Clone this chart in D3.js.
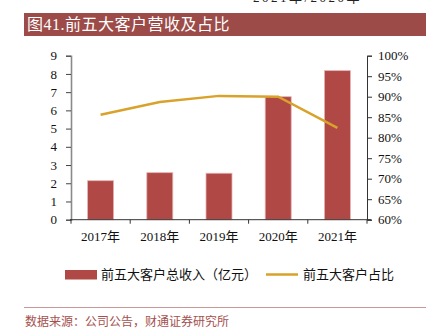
<!DOCTYPE html>
<html><head><meta charset="utf-8">
<script src="https://cdn.jsdelivr.net/npm/d3@7"></script>
<style>
html,body{margin:0;padding:0;background:#fff;}
svg{display:block;}
</style>
</head><body>
<svg id="c" width="426" height="335"></svg>
<script>
const categories = ["2017年","2018年","2019年","2020年","2021年"];
const revenue = [2.14, 2.58, 2.55, 6.75, 8.18];
const share = [0.856, 0.887, 0.902, 0.900, 0.824];
const leftTicks = [0,1,2,3,4,5,6,7,8,9];
const rightTicks = [0.60,0.65,0.70,0.75,0.80,0.85,0.90,0.95,1.00];
const title = "图41.前五大客户营收及占比";
const legendBar = "前五大客户总收入（亿元）";
const legendLine = "前五大客户占比";
const source = "数据来源：公司公告，财通证券研究所";

const svg = d3.select("#c");
const serif = "'Liberation Serif','DejaVu Serif',serif";
const cjk = "'Liberation Serif','Noto Sans CJK SC',serif";

// cut-off text at top (page header remnant)
svg.append("text").attr("x",253).attr("y",2).attr("font-family",cjk).attr("font-size",13)
  .attr("letter-spacing",2.5).attr("fill","#222").text("2021年/2020年");

// title bar
svg.append("rect").attr("x",24).attr("y",13).attr("width",402).attr("height",23).attr("fill","#9c4b48");
svg.append("text").attr("x",27).attr("y",30).attr("fill","#fff")
  .attr("font-family",cjk).attr("font-size",16).attr("letter-spacing",0.5).text(title);

const L=71, R=367, T=55.7, B=219.7;
const xb = d3.scaleBand().domain(categories).range([L,R]);
const y = d3.scaleLinear().domain([0,9]).range([B,T]);
const y2 = d3.scaleLinear().domain([0.6,1.0]).range([B,T]);

// bars
svg.append("g").selectAll("rect").data(revenue).join("rect")
  .attr("x",(d,i)=>xb(categories[i])+xb.bandwidth()/2-13)
  .attr("width",26)
  .attr("y",d=>y(d)).attr("height",d=>B-y(d))
  .attr("fill","#b04846").attr("stroke","#e5b3b2").attr("stroke-width",0.8);

// left axis
const gl = svg.append("g").attr("transform",`translate(${L},0)`)
  .call(d3.axisLeft(y).tickValues(leftTicks).tickSize(5).tickPadding(9).tickFormat(d3.format("d")));
gl.select(".domain").attr("stroke","#8a8a8a").attr("stroke-width",1.6);
gl.selectAll(".tick line").attr("stroke","#444");
gl.selectAll("text").attr("font-family",serif).attr("font-size",13).attr("fill","#111");

// right axis
const gr = svg.append("g").attr("transform",`translate(${R},0)`)
  .call(d3.axisRight(y2).tickValues(rightTicks).tickSize(5).tickPadding(6).tickFormat(d3.format(".0%")));
gr.select(".domain").attr("stroke","#333").attr("stroke-width",1);
gr.selectAll(".tick line").attr("stroke","#333");
gr.selectAll("text").attr("font-family",serif).attr("font-size",13).attr("fill","#111");

// bottom axis
svg.append("line").attr("x1",L-1).attr("x2",R+4).attr("y1",B).attr("y2",B).attr("stroke","#333").attr("stroke-width",1);
const bounds = categories.map(c=>xb(c)).concat([R]);
svg.append("g").selectAll("line").data(bounds).join("line")
  .attr("x1",d=>d).attr("x2",d=>d).attr("y1",B).attr("y2",B+4).attr("stroke","#333");
svg.append("g").selectAll("text").data(categories).join("text")
  .attr("x",d=>xb(d)+xb.bandwidth()/2).attr("y",241).attr("text-anchor","middle")
  .attr("font-family",cjk).attr("font-size",13).attr("fill","#111").text(d=>d);

// line
const line = d3.line().x((d,i)=>xb(categories[i])+xb.bandwidth()/2).y(d=>y2(d));
svg.append("path").datum(share).attr("d",line).attr("fill","none")
  .attr("stroke","#d9a22a").attr("stroke-width",2.5);

// legend
svg.append("rect").attr("x",65).attr("y",270).attr("width",32).attr("height",9.5).attr("fill","#b04846");
svg.append("text").attr("x",101).attr("y",279).attr("font-family",cjk).attr("font-size",13).attr("fill","#111").text(legendBar);
svg.append("line").attr("x1",266).attr("x2",298).attr("y1",274.5).attr("y2",274.5).attr("stroke","#d9a22a").attr("stroke-width",2.5);
svg.append("text").attr("x",303).attr("y",279).attr("font-family",cjk).attr("font-size",13).attr("fill","#111").text(legendLine);

// source
svg.append("line").attr("x1",24).attr("x2",426).attr("y1",307.5).attr("y2",307.5).attr("stroke","#c99896").attr("stroke-width",1);
svg.append("text").attr("x",25).attr("y",326).attr("font-family",cjk).attr("font-size",12).attr("fill","#a4514e").text(source);
</script>
</body></html>
